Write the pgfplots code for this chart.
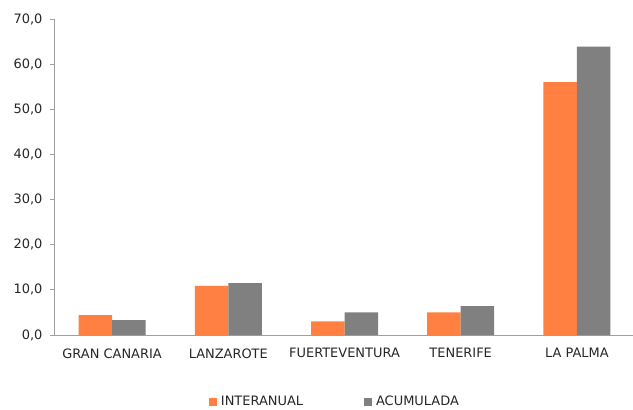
\documentclass[border=0pt]{standalone}
\usepackage{fontspec}
\setmainfont{DejaVu Sans}
\usepackage{pgfplots}
\pgfplotsset{compat=1.18}
\definecolor{orng}{RGB}{255,128,64}
\definecolor{gry}{RGB}{128,128,128}
\definecolor{axgray}{RGB}{160,160,160}
\begin{document}
\begin{tikzpicture}
\begin{axis}[
  name=ax,
  at={(0,0)}, anchor=south west,
  scale only axis,
  width=581bp, height=316bp,
  ymin=0, ymax=70,
  xmin=-0.5, xmax=4.5,
  ybar=0pt, bar width=33.5bp,
  axis x line*=bottom, axis y line*=left,
  axis line style={draw=axgray, line width=0.8pt},
  every tick/.style={draw=axgray, line width=0.8pt},
  tick align=outside,
  ytick={0,10,...,70},
  xtick={0,1,2,3,4},
  xticklabels={GRAN CANARIA, LANZAROTE, FUERTEVENTURA, TENERIFE, LA PALMA},
  x tick style={draw=none},
  extra x ticks={-0.5,0.5,1.5,2.5,3.5,4.5},
  extra x tick labels={},
  extra x tick style={tick style={draw=axgray, line width=0.8pt}, major tick length=5bp},
  major tick length=4bp,
  tick label style={font=\fontsize{13}{15}\selectfont, text=black!85},
  yticklabel style={xshift=-4bp, /pgf/number format/.cd, fixed, fixed zerofill, precision=1, use comma, assume math mode=true},
  xticklabel style={yshift=-6bp},
  legend style={at={(0.4835,-0.211)}, anchor=center, draw=none, legend columns=2,
    font=\fontsize{13}{15}\selectfont, text=black!85,
    /tikz/every even column/.append style={column sep=59bp}},
  legend image code/.code={\fill[#1] (0bp,-4bp) rectangle (8bp,4bp); \path (8bp,0bp) -- (10bp,0bp);},
]
\addplot[fill=orng, draw=none] coordinates {(0,4.4) (1,10.9) (2,3.0) (3,5.0) (4,56.0)};
\addplot[fill=gry, draw=none] coordinates {(0,3.3) (1,11.5) (2,5.0) (3,6.4) (4,63.9)};
\legend{INTERANUAL, ACUMULADA}
\end{axis}
\pgfresetboundingbox
\path (-54bp,-75bp) rectangle (579bp,335bp);
\end{tikzpicture}
\end{document}
